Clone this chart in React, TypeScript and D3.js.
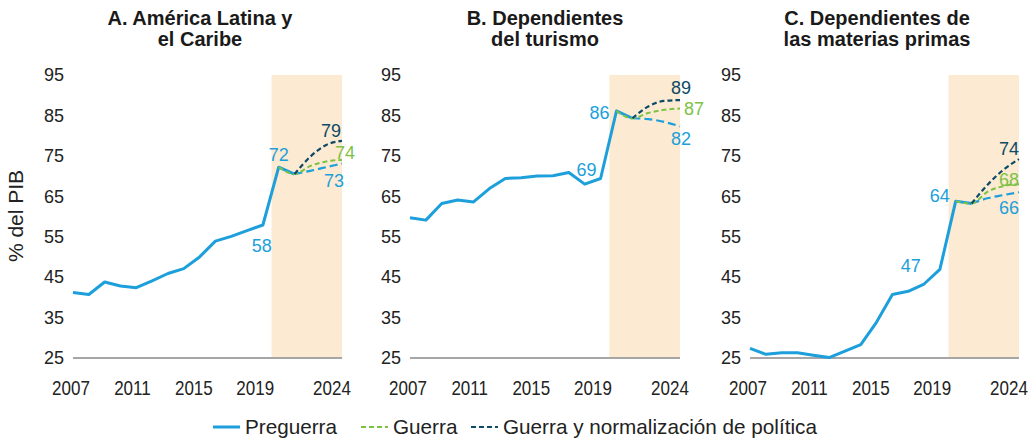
import React from "react";
import * as d3 from "d3";

const years = [2007, 2008, 2009, 2010, 2011, 2012, 2013, 2014, 2015, 2016, 2017, 2018, 2019, 2020, 2021, 2022, 2023, 2024];
const tickYears = [2007, 2011, 2015, 2019, 2024];
const yTicks = [25, 35, 45, 55, 65, 75, 85, 95];

// Pre-war (actual) 2007-2021
const preA = [41.2, 40.7, 43.8, 42.8, 42.4, 44.1, 45.9, 47.1, 50.0, 53.9, 55.1, 56.5, 57.9, 72.2, 70.5];
const preB = [59.7, 59.1, 63.2, 64.1, 63.6, 66.9, 69.4, 69.6, 70.0, 70.1, 70.9, 68.0, 69.4, 86.1, 84.3];
const preC = [27.4, 25.9, 26.3, 26.3, 25.7, 25.1, 26.7, 28.3, 33.9, 40.7, 41.5, 43.3, 46.9, 63.8, 63.2];

// Pre-war projection 2021-2024
const preProjYears = [2021, 2022, 2023, 2024];
const preProjA = [70.5, 71.3, 72.2, 73.1];
const preProjB = [84.3, 84.1, 83.4, 82.3];
const preProjC = [63.2, 64.5, 65.3, 66.0];

// War scenario 2020-2024
const warYears = [2020, 2021, 2022, 2023, 2024];
const warA = [72.2, 70.5, 72.5, 73.6, 74.0];
const warB = [86.1, 84.3, 85.6, 86.4, 86.7];
const warC = [63.8, 63.2, 66.1, 67.5, 68.0];

// War + policy normalization 2021-2024
const normYears = [2021, 2022, 2023, 2024];
const normA = [70.5, 74.8, 77.7, 78.7];
const normB = [84.3, 87.2, 88.6, 88.8];
const normC = [63.2, 67.8, 71.5, 74.2];

const titles = [
  ["A. América Latina y", "el Caribe"],
  ["B. Dependientes", "del turismo"],
  ["C. Dependientes de", "las materias primas"],
];

const legendLabels = ["Preguerra", "Guerra", "Guerra y normalización de política"];

const BLUE = "#1C9FDB";
const GREEN = "#7DC243";
const DARK = "#0C4A66";
const SHADE = "#FCEAD2";
const TEXT = "#222";
const FONT = "'Liberation Sans', Arial, sans-serif";

type Lab = { text: string; year: number; value: number; color: string; dx: number; dy: number };

const panels = [
  {
    pre: preA, preProj: preProjA, war: warA, norm: normA, title: titles[0],
    x0: 73, x1: 342, titleX: 200,
    labels: [
      { text: "58", year: 2019, value: preA[12], color: BLUE, dx: -1, dy: 21 },
      { text: "72", year: 2020, value: preA[13], color: BLUE, dx: 0, dy: -12 },
      { text: "79", year: 2024, value: normA[3], color: DARK, dx: -11, dy: -10 },
      { text: "74", year: 2024, value: warA[4], color: GREEN, dx: 3, dy: -7 },
      { text: "73", year: 2024, value: preProjA[3], color: BLUE, dx: -8, dy: 17 },
    ] as Lab[],
  },
  {
    pre: preB, preProj: preProjB, war: warB, norm: normB, title: titles[1],
    x0: 410, x1: 680, titleX: 545,
    labels: [
      { text: "69", year: 2019, value: preB[12], color: BLUE, dx: -14, dy: -9 },
      { text: "86", year: 2020, value: preB[13], color: BLUE, dx: -17, dy: 2 },
      { text: "89", year: 2024, value: normB[3], color: DARK, dx: 1, dy: -12 },
      { text: "87", year: 2024, value: warB[4], color: GREEN, dx: 14, dy: 0 },
      { text: "82", year: 2024, value: preProjB[3], color: BLUE, dx: 1, dy: 12 },
    ] as Lab[],
  },
  {
    pre: preC, preProj: preProjC, war: warC, norm: normC, title: titles[2],
    x0: 750, x1: 1019, titleX: 877,
    labels: [
      { text: "47", year: 2019, value: preC[12], color: BLUE, dx: -29, dy: -4 },
      { text: "64", year: 2020, value: preC[13], color: BLUE, dx: -16, dy: -5 },
      { text: "74", year: 2024, value: normC[3], color: DARK, dx: -10, dy: -10 },
      { text: "68", year: 2024, value: warC[4], color: GREEN, dx: -10, dy: -4 },
      { text: "66", year: 2024, value: preProjC[3], color: BLUE, dx: -10, dy: 15 },
    ] as Lab[],
  },
];

const Y_TOP = 75;
const Y_BOT = 358;

function Panel({ p }: { p: (typeof panels)[number] }) {
  const x = d3.scaleLinear().domain([2007, 2024]).range([p.x0, p.x1]);
  // tick labels sit slightly left of their data positions in the reference
  const xLab = d3.scaleLinear().domain([2007, 2024]).range([p.x0 - 2, p.x1 - 10]);
  const y = d3.scaleLinear().domain([25, 95]).range([Y_BOT, Y_TOP]);
  const straight = d3.line<[number, number]>().x((d) => x(d[0])).y((d) => y(d[1]));
  const smooth = d3
    .line<[number, number]>()
    .x((d) => x(d[0]))
    .y((d) => y(d[1]))
    .curve(d3.curveMonotoneX);
  const prePts = p.pre.map((v, i) => [years[i], v] as [number, number]);
  const preProjPts = p.preProj.map((v, i) => [preProjYears[i], v] as [number, number]);
  const warPts = p.war.map((v, i) => [warYears[i], v] as [number, number]);
  const normPts = p.norm.map((v, i) => [normYears[i], v] as [number, number]);
  return (
    <g>
      <rect x={x(2019.55)} y={y(95)} width={x(2024) - x(2019.55)} height={y(25) - y(95)} fill={SHADE} />
      {yTicks.map((t) => (
        <text key={t} x={p.x0 - 9} y={y(t)} dy="0.35em" textAnchor="end" fontSize={18} fill={TEXT}>
          {t}
        </text>
      ))}
      <line x1={p.x0} x2={p.x1} y1={y(25)} y2={y(25)} stroke="#A6A6A6" strokeWidth={2} />
      {tickYears.map((t) => (
        <text
          key={t}
          transform={`translate(${xLab(t)},395) scale(0.85,1)`}
          textAnchor="middle"
          fontSize={20}
          fill={TEXT}
        >
          {t}
        </text>
      ))}
      <path d={straight(prePts) || ""} fill="none" stroke={BLUE} strokeWidth={3} strokeLinejoin="round" />
      <path d={smooth(preProjPts) || ""} fill="none" stroke={BLUE} strokeWidth={2.2} strokeDasharray="8,4" />
      <path d={smooth(warPts) || ""} fill="none" stroke={GREEN} strokeWidth={2} strokeDasharray="5,3" />
      <path d={smooth(normPts) || ""} fill="none" stroke={DARK} strokeWidth={2.2} strokeDasharray="5,3" />
      {p.labels.map((l, i) => (
        <text
          key={i}
          x={x(l.year) + l.dx}
          y={y(l.value) + l.dy}
          dy="0.35em"
          textAnchor="middle"
          fontSize={18}
          fill={l.color}
        >
          {l.text}
        </text>
      ))}
      <text x={p.titleX} y={25} textAnchor="middle" fontSize={20} fontWeight="bold" fill="#1a1a1a">
        {p.title[0]}
      </text>
      <text x={p.titleX} y={46} textAnchor="middle" fontSize={20} fontWeight="bold" fill="#1a1a1a">
        {p.title[1]}
      </text>
    </g>
  );
}

export default function App() {
  return (
    <div style={{ position: "fixed", left: 0, top: 0 }}>
      <svg width={1036} height={440} style={{ display: "block", fontFamily: FONT }}>
        <rect width={1036} height={440} fill="#fff" />
        {panels.map((p, i) => (
          <Panel key={i} p={p} />
        ))}
        <text
          transform="translate(23,216) rotate(-90)"
          textAnchor="middle"
          fontSize={21}
          fill={TEXT}
        >
          % del PIB
        </text>
        <g fontSize={20.7} fill={TEXT}>
          <line x1={213} x2={240} y1={427} y2={427} stroke={BLUE} strokeWidth={3} />
          <text x={245} y={434}>{legendLabels[0]}</text>
          <line x1={361} x2={388} y1={427} y2={427} stroke={GREEN} strokeWidth={2} strokeDasharray="5,3" />
          <text x={393} y={434}>{legendLabels[1]}</text>
          <line x1={471} x2={498} y1={427} y2={427} stroke={DARK} strokeWidth={2} strokeDasharray="5,3" />
          <text x={503} y={434}>{legendLabels[2]}</text>
        </g>
      </svg>
    </div>
  );
}
